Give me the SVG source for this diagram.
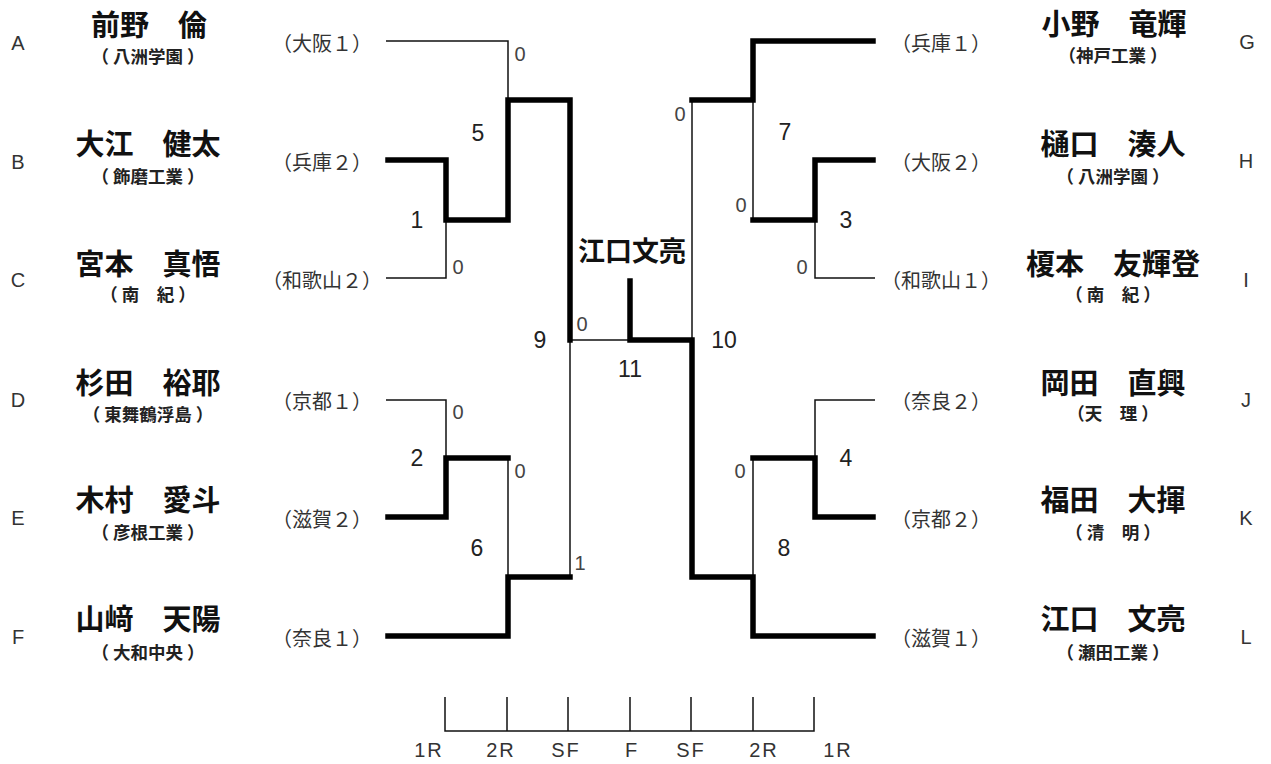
<svg xmlns="http://www.w3.org/2000/svg" width="1271" height="764" viewBox="0 0 1271 764">
<style>
text{dominant-baseline:central;text-anchor:middle}
.nm{font-family:"Noto Sans CJK JP","Noto Sans CJK SC",sans-serif;font-weight:bold;font-size:29px;fill:#111}
.sc{font-family:"Noto Sans CJK JP","Noto Sans CJK SC",sans-serif;font-weight:bold;font-size:17.5px;fill:#222}
.pf{font-family:"Noto Sans CJK JP","Noto Sans CJK SC",sans-serif;font-size:20px;fill:#333}
.lt{font-family:"Liberation Sans",Arial,sans-serif;font-size:20px;fill:#333}
.mn{font-family:"Liberation Sans",Arial,sans-serif;font-size:23px;fill:#222}
.pt{font-family:"Liberation Sans",Arial,sans-serif;font-size:20px;fill:#444}
.ax{font-family:"Liberation Sans",Arial,sans-serif;font-size:20px;letter-spacing:2px;fill:#333}
.win{font-family:"Noto Sans CJK JP","Noto Sans CJK SC",sans-serif;font-weight:bold;font-size:27px;fill:#111}
.thin{fill:none;stroke:#111;stroke-width:1.5}
.thick{fill:none;stroke:#000;stroke-width:5.5;stroke-linejoin:miter;stroke-linecap:square}
</style>
<rect width="1271" height="764" fill="#fff"/>

<g id="player-A"><text class="lt" x="18" y="43">A</text><text class="nm" x="149" y="23">前野　倫</text><text class="sc" x="148" y="55">（ 八洲学園 ）</text><text class="pf" x="322" y="42">（大阪１）</text></g>
<g id="player-B"><text class="lt" x="18" y="162">B</text><text class="nm" x="148" y="142">大江　健太</text><text class="sc" x="148" y="175">（ 飾磨工業 ）</text><text class="pf" x="322" y="161">（兵庫２）</text></g>
<g id="player-C"><text class="lt" x="18" y="280">C</text><text class="nm" x="148" y="262">宮本　真悟</text><text class="sc" x="148" y="293">（ 南　紀 ）</text><text class="pf" x="322" y="279">（和歌山２）</text></g>
<g id="player-D"><text class="lt" x="18" y="400">D</text><text class="nm" x="148" y="381">杉田　裕耶</text><text class="sc" x="148" y="413">（ 東舞鶴浮島 ）</text><text class="pf" x="322" y="400">（京都１）</text></g>
<g id="player-E"><text class="lt" x="18" y="518">E</text><text class="nm" x="148" y="498">木村　愛斗</text><text class="sc" x="148" y="531">（ 彦根工業 ）</text><text class="pf" x="322" y="518">（滋賀２）</text></g>
<g id="player-F"><text class="lt" x="18" y="637">F</text><text class="nm" x="148" y="617">山﨑　天陽</text><text class="sc" x="148" y="651">（ 大和中央 ）</text><text class="pf" x="322" y="637">（奈良１）</text></g>

<g id="player-G"><text class="lt" x="1247" y="42">G</text><text class="nm" x="1114" y="22">小野　竜輝</text><text class="sc" x="1113" y="54">（神戸工業 ）</text><text class="pf" x="941" y="42">（兵庫１）</text></g>
<g id="player-H"><text class="lt" x="1246" y="161">H</text><text class="nm" x="1113" y="142">樋口　湊人</text><text class="sc" x="1113" y="175">（ 八洲学園 ）</text><text class="pf" x="941" y="161">（大阪２）</text></g>
<g id="player-I"><text class="lt" x="1246" y="280">I</text><text class="nm" x="1113" y="262">榎本　友輝登</text><text class="sc" x="1113" y="293">（ 南　紀 ）</text><text class="pf" x="941" y="279">（和歌山１）</text></g>
<g id="player-J"><text class="lt" x="1246" y="400">J</text><text class="nm" x="1113" y="381">岡田　直興</text><text class="sc" x="1113" y="412">（天　理 ）</text><text class="pf" x="941" y="400">（奈良２）</text></g>
<g id="player-K"><text class="lt" x="1246" y="518">K</text><text class="nm" x="1113" y="498">福田　大揮</text><text class="sc" x="1113" y="531">（ 清　明 ）</text><text class="pf" x="941" y="518">（京都２）</text></g>
<g id="player-L"><text class="lt" x="1246" y="637">L</text><text class="nm" x="1113" y="617">江口　文亮</text><text class="sc" x="1113" y="651">（ 瀬田工業 ）</text><text class="pf" x="941" y="637">（滋賀１）</text></g>

<g id="champion"><text class="win" x="632" y="249">江口文亮</text></g>

<g id="connectors">
<path class="thin" d="M386,41 H508 V100"/>
<path class="thin" d="M386,278 H446 V220"/>
<path class="thin" d="M570,340 H630"/>
<path class="thin" d="M386,400 H446 V458"/>
<path class="thin" d="M508,458 V577"/>
<path class="thin" d="M570,577 V340"/>
<path class="thin" d="M692,340 V100"/>
<path class="thin" d="M753,100 V220"/>
<path class="thin" d="M815,220 V278 H875"/>
<path class="thin" d="M875,400 H815 V458"/>
<path class="thin" d="M753,458 V577"/>
<path class="thick" d="M388,160 H446 V220 H508 V100 H570 V340"/>
<path class="thick" d="M388,517 H446 V458 H508"/>
<path class="thick" d="M388,636 H508 V577 H570"/>
<path class="thick" d="M630,281 V340 H692 V577 H753 V636 H873"/>
<path class="thick" d="M692,100 H753 V41 H873"/>
<path class="thick" d="M873,160 H815 V220 H753"/>
<path class="thick" d="M873,517 H815 V458 H753"/>
</g>

<g id="match-labels">
<text class="mn" x="417" y="220">1</text>
<text class="mn" x="417" y="458">2</text>
<text class="mn" x="846" y="220">3</text>
<text class="mn" x="846" y="458">4</text>
<text class="mn" x="478" y="133">5</text>
<text class="mn" x="477" y="548">6</text>
<text class="mn" x="785" y="132">7</text>
<text class="mn" x="784" y="548">8</text>
<text class="mn" x="540" y="340">9</text>
<text class="mn" x="724" y="340">10</text>
<text class="mn" x="630" y="369">11</text>
</g>

<g id="scores">
<text class="pt" x="520" y="54">0</text>
<text class="pt" x="458" y="267">0</text>
<text class="pt" x="582" y="324">0</text>
<text class="pt" x="458" y="412">0</text>
<text class="pt" x="520" y="471">0</text>
<text class="pt" x="580" y="563">1</text>
<text class="pt" x="680" y="114">0</text>
<text class="pt" x="741" y="205">0</text>
<text class="pt" x="802" y="267">0</text>
<text class="pt" x="740" y="471">0</text>
</g>

<g id="axis">
<path class="thin" stroke-width="1.8" d="M445,697 V731 H814 V697 M507,697 V731 M568,697 V731 M630,697 V731 M691,697 V731 M753,697 V731"/>
<text class="ax" x="429" y="750">1R</text>
<text class="ax" x="501" y="750">2R</text>
<text class="ax" x="566" y="750">SF</text>
<text class="ax" x="632" y="750">F</text>
<text class="ax" x="691" y="750">SF</text>
<text class="ax" x="764" y="750">2R</text>
<text class="ax" x="838" y="750">1R</text>
</g>
</svg>
